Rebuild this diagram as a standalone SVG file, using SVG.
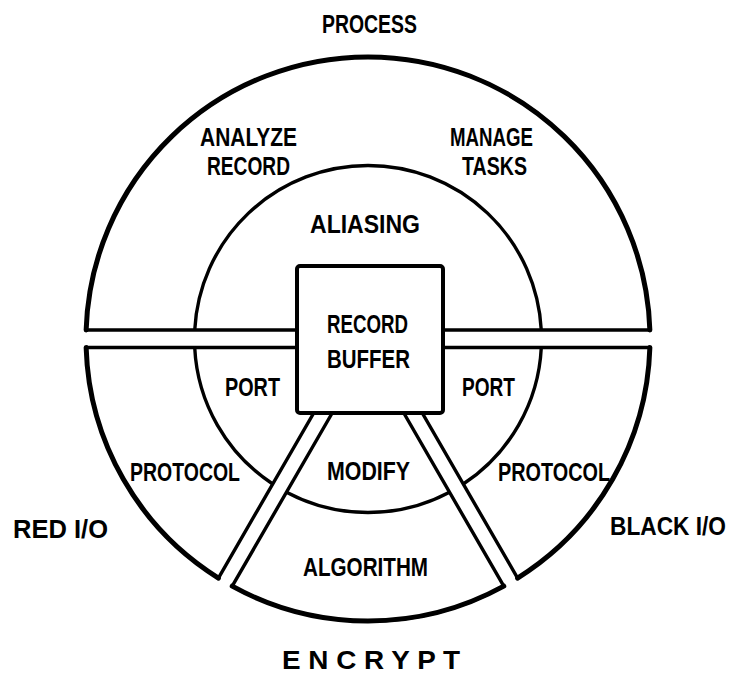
<svg xmlns="http://www.w3.org/2000/svg" width="744" height="675" viewBox="0 0 744 675">
<style>
.sec{fill:#fff;stroke:#000;stroke-width:3.4;stroke-linejoin:round}
.rim{fill:none;stroke:#000;stroke-width:5;stroke-linecap:round}
.arc{fill:none;stroke:#000;stroke-width:3.4}
.box{fill:#fff;stroke:#000;stroke-width:4}
text{font-family:"Liberation Sans","DejaVu Sans",sans-serif;font-weight:bold;font-size:26px;fill:#000}
</style>
<rect width="744" height="675" fill="#fff"/>
<g id="process">
<path class="sec" d="M86.14 330 A282 282 0 0 1 649.86 330 Z"/>
<path class="rim" d="M86.14 330 A282 282 0 0 1 649.86 330"/>
<path class="arc" d="M194.73 330 A173.5 173.5 0 0 1 541.27 330"/>
<text x="322" y="33" textLength="95" lengthAdjust="spacingAndGlyphs">PROCESS</text>
<text x="200" y="146" textLength="97" lengthAdjust="spacingAndGlyphs">ANALYZE</text>
<text x="207" y="175" textLength="83" lengthAdjust="spacingAndGlyphs">RECORD</text>
<text x="450" y="146" textLength="83" lengthAdjust="spacingAndGlyphs">MANAGE</text>
<text x="462" y="175" textLength="65" lengthAdjust="spacingAndGlyphs">TASKS</text>
<text x="310" y="233" textLength="110" lengthAdjust="spacingAndGlyphs">ALIASING</text>
</g>
<g id="red-io">
<path class="sec" d="M86.13 347.5 L351.54 347.5 L218.42 578.06 A282 282 0 0 1 86.13 347.5 Z"/>
<path class="rim" d="M218.42 578.06 A282 282 0 0 1 86.13 347.5"/>
<path class="arc" d="M194.71 347.5 A173.5 173.5 0 0 0 272.73 484"/>
<text x="225" y="396" textLength="55" lengthAdjust="spacingAndGlyphs">PORT</text>
<text x="130" y="481" textLength="110" lengthAdjust="spacingAndGlyphs">PROTOCOL</text>
<text x="13" y="538" textLength="95" lengthAdjust="spacingAndGlyphs">RED I/O</text>
</g>
<g id="encrypt">
<path class="sec" d="M339.71 400 L232.22 586.16 A282 282 0 0 0 503.78 586.16 L396.29 400 Z"/>
<path class="rim" d="M232.22 586.16 A282 282 0 0 0 503.78 586.16"/>
<path class="arc" d="M286.5 492.16 A173.5 173.5 0 0 0 449.5 492.16"/>
<text x="327" y="480" textLength="83" lengthAdjust="spacingAndGlyphs">MODIFY</text>
<text x="303" y="576" textLength="125" lengthAdjust="spacingAndGlyphs">ALGORITHM</text>
<text x="282" y="669" textLength="178" lengthAdjust="spacingAndGlyphs">E N C R Y P T</text>
</g>
<g id="black-io">
<path class="sec" d="M384.46 347.5 L649.87 347.5 A282 282 0 0 1 517.58 578.06 Z"/>
<path class="rim" d="M649.87 347.5 A282 282 0 0 1 517.58 578.06"/>
<path class="arc" d="M463.27 484 A173.5 173.5 0 0 0 541.29 347.5"/>
<text x="462" y="396" textLength="53" lengthAdjust="spacingAndGlyphs">PORT</text>
<text x="498" y="481" textLength="112" lengthAdjust="spacingAndGlyphs">PROTOCOL</text>
<text x="610" y="535" font-size="23" textLength="116" lengthAdjust="spacingAndGlyphs">BLACK I/O</text>
</g>
<g id="record-buffer">
<rect class="box" x="297" y="266" width="146" height="147" rx="3"/>
<text x="327" y="333" textLength="81" lengthAdjust="spacingAndGlyphs">RECORD</text>
<text x="327" y="368" textLength="83" lengthAdjust="spacingAndGlyphs">BUFFER</text>
</g>
</svg>
